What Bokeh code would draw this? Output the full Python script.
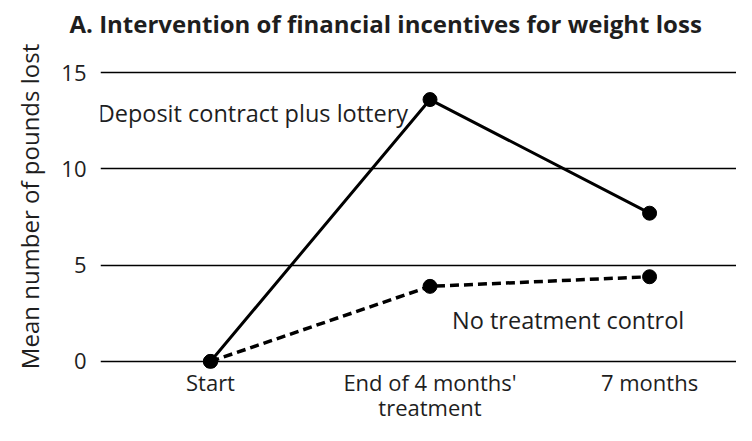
from bokeh.plotting import figure
from bokeh.models import Range1d, FixedTicker, Label
from bokeh.embed import file_html
from bokeh.resources import INLINE

# ---- data ----
stages = ["Start", "End of 4 months'\ntreatment", "7 months"]
stage_pos = [0, 1, 2]
deposit_lottery = [0.0, 13.6, 7.7]
no_treatment = [0.0, 3.9, 4.4]
y_ticks = [0, 5, 10, 15]
title_text = "A.  Intervention of financial incentives for weight loss"
y_label = "Mean number of pounds lost"
series_labels = ["Deposit contract plus lottery", "No treatment control"]

FONT = "Open Sans"
TXT = "#1e1e1e"

p = figure(width=736, height=425, output_backend="svg", toolbar_location=None,
           x_range=Range1d(-0.501, 2.396), y_range=Range1d(-0.365, 16.46),
           min_border_left=100, min_border_right=0, min_border_top=0, min_border_bottom=0)
p.outline_line_color = None
p.background_fill_color = "white"
p.border_fill_color = "white"

# title
p.title.text = title_text
p.title.text_font = FONT
p.title.text_font_style = "bold"
p.title.text_font_size = "24px"
p.title.text_color = TXT
p.title.align = "left"
p.title.offset = -31
p.title.standoff = 9

# axes
p.xaxis.ticker = FixedTicker(ticks=stage_pos)
p.xaxis.major_label_overrides = {i: s for i, s in zip(stage_pos, stages)}
p.yaxis.ticker = FixedTicker(ticks=y_ticks)
for ax in (p.xaxis[0], p.yaxis[0]):
    ax.axis_line_color = None
    ax.major_tick_line_color = None
    ax.minor_tick_line_color = None
    ax.major_tick_in = 0
    ax.major_tick_out = 0
    ax.major_label_text_font = FONT
    ax.major_label_text_font_size = "22px"
    ax.major_label_text_color = TXT
p.xaxis.major_label_standoff = -2
p.xaxis.major_label_text_line_height = 0.85
p.yaxis.major_label_standoff = 14
p.yaxis.axis_label = y_label
p.yaxis.axis_label_text_font = FONT
p.yaxis.axis_label_text_font_size = "24px"
p.yaxis.axis_label_text_font_style = "normal"
p.yaxis.axis_label_text_color = TXT
p.yaxis.axis_label_standoff = 12

# grid
p.xgrid.grid_line_color = None
p.ygrid.grid_line_color = "black"
p.ygrid.grid_line_width = 1.4
p.ygrid.ticker = FixedTicker(ticks=y_ticks)

# series
p.line(stage_pos, no_treatment, line_color="black", line_width=3.5, line_dash="9 5")
p.scatter(stage_pos, no_treatment, size=14, color="black")
p.line(stage_pos, deposit_lottery, line_color="black", line_width=3)
p.scatter(stage_pos, deposit_lottery, size=14, color="black")

# series labels
p.add_layout(Label(x=stage_pos[1], y=deposit_lottery[1], text=series_labels[0],
                   x_offset=-22, y_offset=-13, text_align="right", text_baseline="alphabetic",
                   text_font=FONT, text_font_size="23.5px", text_color=TXT))
p.add_layout(Label(x=stage_pos[1], y=no_treatment[1], text=series_labels[1],
                   x_offset=22, y_offset=-34, text_align="left", text_baseline="alphabetic",
                   text_font=FONT, text_font_size="23.5px", text_color=TXT))

open("out.html", "w").write(file_html(p, INLINE))
